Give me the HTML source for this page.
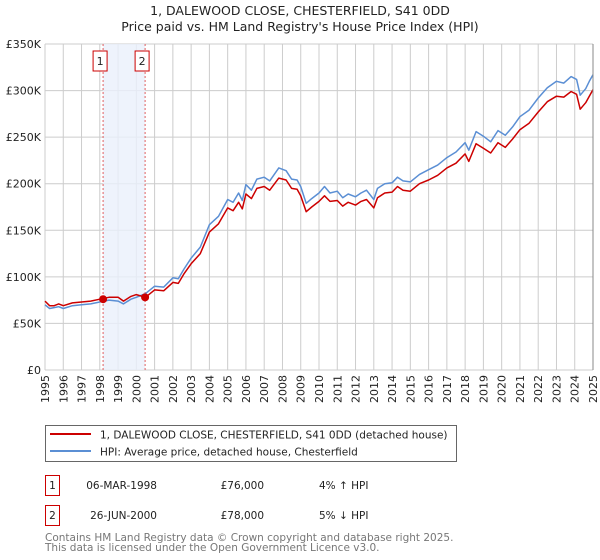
<!DOCTYPE html>
<html><head><meta charset="utf-8">
<style>
body{margin:0;background:#fff;font-family:"DejaVu Sans","Liberation Sans",sans-serif;}
svg{display:block}
</style></head>
<body>
<svg id="chart" width="600" height="560" xmlns="http://www.w3.org/2000/svg" font-family="DejaVu Sans, Liberation Sans, sans-serif">
<text x="300" y="15" text-anchor="middle" font-size="12.5" fill="#222">1, DALEWOOD CLOSE, CHESTERFIELD, S41 0DD</text>
<text x="300" y="31" text-anchor="middle" font-size="12.5" fill="#222">Price paid vs. HM Land Registry's House Price Index (HPI)</text>
<g id="grid"></g>
<g id="bands"></g>
<g id="series"></g>
<g id="axes"></g>

<g>
<rect x="45.5" y="425.5" width="411" height="36" fill="#fff" stroke="#666"/>
<line x1="50" y1="434" x2="91" y2="434" stroke="#cc0000" stroke-width="2"/>
<text x="100" y="438.5" font-size="10.5" fill="#222">1, DALEWOOD CLOSE, CHESTERFIELD, S41 0DD (detached house)</text>
<line x1="50" y1="451" x2="91" y2="451" stroke="#5b8fd4" stroke-width="2"/>
<text x="100" y="455.5" font-size="10.5" fill="#222">HPI: Average price, detached house, Chesterfield</text>
</g>

<g font-size="10.5" fill="#222">
<rect x="45.5" y="475.5" width="14" height="20" fill="#fff" stroke="#cc0000"/>
<text x="52.5" y="489" text-anchor="middle">1</text>
<text x="157" y="489" text-anchor="end">06-MAR-1998</text>
<text x="264" y="489" text-anchor="end">£76,000</text>
<text x="319" y="489">4% ↑ HPI</text>
<rect x="45.5" y="505.5" width="14" height="20" fill="#fff" stroke="#cc0000"/>
<text x="52.5" y="519" text-anchor="middle">2</text>
<text x="157" y="519" text-anchor="end">26-JUN-2000</text>
<text x="264" y="519" text-anchor="end">£78,000</text>
<text x="319" y="519">5% ↓ HPI</text>
</g>
<text x="45" y="541" font-size="10.5" fill="#777">Contains HM Land Registry data © Crown copyright and database right 2025.</text>
<text x="45" y="551" font-size="10.5" fill="#777">This data is licensed under the Open Government Licence v3.0.</text>
</svg>
<script>
const years = [1995.0,1995.25,1995.5,1995.75,1996,1996.5,1997,1997.5,1998,1998.5,1999,1999.3,1999.7,2000,2000.5,2001,2001.5,2002,2002.3,2002.6,2003,2003.5,2004,2004.5,2005,2005.3,2005.6,2005.8,2006,2006.3,2006.6,2007,2007.3,2007.8,2008.2,2008.5,2008.8,2009.0,2009.3,2009.6,2010,2010.3,2010.6,2011,2011.3,2011.6,2012,2012.3,2012.6,2013,2013.2,2013.6,2014,2014.3,2014.6,2015,2015.5,2016,2016.5,2017,2017.5,2018,2018.2,2018.6,2019,2019.4,2019.8,2020.2,2020.6,2021,2021.5,2022,2022.5,2023,2023.4,2023.8,2024.1,2024.3,2024.6,2024.8,2025];
const hpiValues = [70,66,67,68,66,69,70,71,73,75,74,71,76,78,82,90,89,99,98,108,120,132,156,165,183,180,190,182,199,193,205,207,203,217,214,205,204,197,179,184,190,197,190,192,185,189,186,190,193,183,195,200,201,207,203,202,210,215,220,228,234,244,236,256,251,245,257,252,261,272,279,292,303,310,308,315,312,295,302,310,317];
const propertyValues = [74,69,69,71,69,72,73,74,76,78,78,74,79,81,78,86,85,94,93,103,114,125,148,157,174,171,180,173,189,184,195,197,193,206,204,195,194,187,170,175,181,187,181,182,176,180,177,181,183,174,185,190,191,197,193,192,200,204,209,217,222,232,224,243,238,233,244,239,248,258,265,277,288,294,293,299,296,280,287,294,301];
const saleDates = [1998.18, 2000.48];
const salePrices = [76, 78];
const saleLabels = ["1", "2"];
const yTicks = [0,50,100,150,200,250,300,350];
const yTickLabels = ["£0","£50K","£100K","£150K","£200K","£250K","£300K","£350K"];
const xTicks = [1995,1996,1997,1998,1999,2000,2001,2002,2003,2004,2005,2006,2007,2008,2009,2010,2011,2012,2013,2014,2015,2016,2017,2018,2019,2020,2021,2022,2023,2024,2025];

const X0=45, X1=593, Y0=370, Y1=44;
const xs = v => X0 + (v-1995)/(2025-1995)*(X1-X0);
const ys = v => Y0 - v/350*(Y0-Y1);
const NS="http://www.w3.org/2000/svg";
function mk(tag, attrs, parent){const e=document.createElementNS(NS,tag);for(const k in attrs)e.setAttribute(k,attrs[k]);parent.appendChild(e);return e;}
const grid=document.getElementById('grid'), axes=document.getElementById('axes'), bands=document.getElementById('bands'), series=document.getElementById('series');

yTicks.forEach((t,i)=>{
  const l=mk('line',{x1:X0,x2:X1,y1:ys(t),y2:ys(t),stroke:'#cccccc','stroke-width':1},grid);
  
  
  const tx=mk('text',{x:X0-4,y:ys(t)+4,'text-anchor':'end','font-size':11,fill:'#222'},axes);
  tx.textContent=yTickLabels[i];
  
  
});
xTicks.forEach(t=>{
  const l=mk('line',{x1:xs(t),x2:xs(t),y1:Y1,y2:Y0,stroke:'#cccccc','stroke-width':1},grid);
  
  
  const tx=mk('text',{transform:`translate(${xs(t)+4},${Y0+5}) rotate(-90)`,'text-anchor':'end','font-size':11,fill:'#222'},axes);
  tx.textContent=String(t);
  
  
});

const band=mk('rect',{x:xs(saleDates[0]),y:Y1,width:xs(saleDates[1])-xs(saleDates[0]),height:Y0-Y1,fill:'#eaf0fb',opacity:0.8},bands);


saleDates.forEach((d,i)=>{
  const l=mk('line',{x1:xs(d),x2:xs(d),y1:Y1,y2:Y0,stroke:'#e06060','stroke-dasharray':'2,2','stroke-width':1},bands);
  
  
  const bx=xs(d)-3;
  const r=mk('rect',{x:bx-7,y:51,width:14,height:20,fill:'#fff',stroke:'#cc0000'},bands);
  
  
  const t=mk('text',{x:bx,y:65,'text-anchor':'middle','font-size':11,fill:'#222'},bands);
  t.textContent=saleLabels[i];
  
  
});

function path(vals,color,name){
  const d=vals.map((v,i)=>(i?'L':'M')+xs(years[i]).toFixed(1)+','+ys(v).toFixed(1)).join('');
  const p=mk('path',{d,fill:'none',stroke:color,'stroke-width':1.5,'stroke-linejoin':'round'},series);
  
  
}
path(hpiValues,'#5b8fd4','hpi-line');
path(propertyValues,'#cc0000','property-line');
saleDates.forEach((d,i)=>{
  const c=mk('circle',{cx:xs(d),cy:ys(salePrices[i]),r:4,fill:'#cc0000'},series);
  
  
});
const ax=mk('line',{x1:X1,x2:X1,y1:Y1,y2:Y0,stroke:'#888','stroke-width':1},axes);


</script>
</body></html>
